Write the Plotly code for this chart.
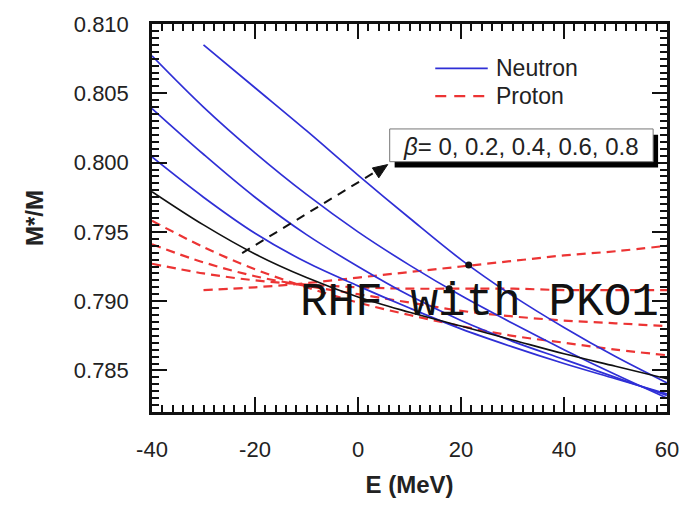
import plotly.graph_objects as go

# Energy grids (MeV)
energy = [-40, -30, -20, -10, 0, 10, 20, 30, 40, 50, 60]
energy_b08 = [-30, -20, -10, 0, 10, 20, 30, 40, 50, 60]

# Effective mass M*/M, symmetric matter (beta = 0)
mass_b0 = [0.7979, 0.7955, 0.7934, 0.7917, 0.7903, 0.7892, 0.7882, 0.7872, 0.7862, 0.7853, 0.7844]

# Neutron effective masses
neutron_b02 = [0.8004, 0.7975, 0.7949, 0.7928, 0.7911, 0.7895, 0.7880, 0.7867, 0.7855, 0.7844, 0.7833]
neutron_b04 = [0.8039, 0.8006, 0.7975, 0.7948, 0.7925, 0.7904, 0.7886, 0.7871, 0.7858, 0.7845, 0.7832]
neutron_b06 = [0.8077, 0.8040, 0.8007, 0.7977, 0.7950, 0.7926, 0.7904, 0.7884, 0.7865, 0.7847, 0.7830]
neutron_b08 = [0.8085, 0.8054, 0.8023, 0.7991, 0.7960, 0.7930, 0.7904, 0.7881, 0.7860, 0.7841]

# Proton effective masses
proton_b02 = [0.7958, 0.7939, 0.7923, 0.7910, 0.7899, 0.7890, 0.7882, 0.7875, 0.7870, 0.7865, 0.7861]
proton_b04 = [0.7941, 0.7928, 0.7918, 0.7911, 0.7905, 0.7899, 0.7893, 0.7889, 0.7886, 0.7884, 0.7882]
proton_b06 = [0.7927, 0.7920, 0.7915, 0.7912, 0.7910, 0.7909, 0.7909, 0.7909, 0.7908, 0.7908, 0.7908]
proton_b08 = [0.7908, 0.7910, 0.7913, 0.7917, 0.7921, 0.7925, 0.7929, 0.7933, 0.7936, 0.7940]

# Points where neutron and proton masses coincide
cross_energy = [21.5, 17.7]
cross_mass = [0.7926, 0.7909]

x_ticks = [-40, -20, 0, 20, 40, 60]

BLUE = "#2f2fd6"
RED = "#ec3434"
FONT = "Liberation Sans, Arial, Helvetica, sans-serif"

W, H = 691, 507
L, R, T, B = 152, 672, 14, 417


def px(x):
    return (x - L) / (R - L)


def py(y):
    return (B - y) / (B - T)


fig = go.Figure()

neutrons = [(energy, neutron_b02), (energy, neutron_b04), (energy, neutron_b06), (energy_b08, neutron_b08)]
protons = [(energy, proton_b02), (energy, proton_b04), (energy, proton_b06), (energy_b08, proton_b08)]

for ex, ys in protons:
    fig.add_trace(go.Scatter(x=ex, y=ys, mode="lines", showlegend=False,
                             line=dict(color=RED, width=2.2, dash="9px,6px", shape="spline", smoothing=1.0)))
for ex, ys in neutrons:
    fig.add_trace(go.Scatter(x=ex, y=ys, mode="lines", showlegend=False,
                             line=dict(color=BLUE, width=1.7, shape="spline", smoothing=1.0)))
fig.add_trace(go.Scatter(x=energy, y=mass_b0, mode="lines", showlegend=False,
                         line=dict(color="#111111", width=1.6, shape="spline", smoothing=1.0)))
fig.add_trace(go.Scatter(x=cross_energy, y=cross_mass, mode="markers", showlegend=False,
                         marker=dict(color="#111111", size=7)))

shapes = []
# legend samples
shapes.append(dict(type="line", xref="paper", yref="paper", x0=px(438), x1=px(491), y0=py(60), y1=py(60),
                   line=dict(color=BLUE, width=1.8)))
shapes.append(dict(type="line", xref="paper", yref="paper", x0=px(438), x1=px(491), y0=py(89), y1=py(89),
                   line=dict(color=RED, width=2.2, dash="11px,8px")))
# beta label box with drop shadow
shapes.append(dict(type="rect", xref="paper", yref="paper", x0=px(397), x1=px(663), y0=py(129), y1=py(163),
                   fillcolor="#000000", line=dict(width=0)))
shapes.append(dict(type="rect", xref="paper", yref="paper", x0=px(392), x1=px(658), y0=py(123), y1=py(157),
                   fillcolor="#ffffff", line=dict(color="#777777", width=1)))
# dashed arrow shaft
shapes.append(dict(type="line", xref="paper", yref="paper", x0=px(243), y0=py(252), x1=px(380), y1=py(166),
                   line=dict(color="#111111", width=2, dash="9px,7px")))
# arrow head
tip = (390, 160)
b1 = (374.5, 163.5)
b2 = (381.0, 173.8)
shapes.append(dict(type="path", xref="paper", yref="paper",
                   path="M {} {} L {} {} L {} {} Z".format(px(tip[0]), py(tip[1]), px(b1[0]), py(b1[1]),
                                                          px(b2[0]), py(b2[1])),
                   fillcolor="#111111", line=dict(color="#111111", width=1)))

annotations = [
    dict(xref="paper", yref="paper", x=px(497), y=py(60), text="Neutron", showarrow=False,
         xanchor="left", yanchor="middle", font=dict(family=FONT, size=23, color="#222222")),
    dict(xref="paper", yref="paper", x=px(497), y=py(89), text="Proton", showarrow=False,
         xanchor="left", yanchor="middle", font=dict(family=FONT, size=23, color="#222222")),
    dict(xref="paper", yref="paper", x=px(525), y=py(141), text="<i>β</i>= 0, 0.2, 0.4, 0.6, 0.8",
         showarrow=False, xanchor="center", yanchor="middle",
         font=dict(family=FONT, size=24, color="#222222")),
    dict(xref="paper", yref="paper", x=px(299), y=py(304), text="RHF with PKO1", showarrow=False,
         xanchor="left", yanchor="middle",
         font=dict(family="Courier New, Liberation Mono, monospace", size=46, color="#111111")),
]

axis_common = dict(
    showline=True, linecolor="#111111", linewidth=2.5, mirror="ticks",
    ticks="inside", ticklen=15, tickwidth=2, tickcolor="#111111",
    showgrid=False, zeroline=False,
    tickfont=dict(family=FONT, size=22, color="#222222"),
)

fig.update_xaxes(range=[-40, 60], tickmode="array", tickvals=x_ticks, ticktext=[str(v) for v in x_ticks],
                 minor=dict(tickmode="linear", dtick=2, tick0=-40, ticks="inside", ticklen=7, tickwidth=1.5,
                            tickcolor="#111111"),
                 ticklabelstandoff=16,
                 title=dict(text="<b>E (MeV)</b>", font=dict(family=FONT, size=24, color="#222222"), standoff=16),
                 **axis_common)
fig.update_yaxes(range=[0.782, 0.810], tickmode="linear", tick0=0.78, dtick=0.005, tickformat=".3f",
                 minor=dict(tickmode="linear", dtick=0.0005, tick0=0.78, ticks="inside", ticklen=7, tickwidth=1.5,
                            tickcolor="#111111"),
                 ticklabelstandoff=16,
                 title=dict(text="<b>M*/M</b>", font=dict(family=FONT, size=24, color="#222222"), standoff=24),
                 **axis_common)

fig.update_layout(
    width=W, height=H,
    margin=dict(l=L, r=W - R, t=T, b=H - B, pad=0),
    paper_bgcolor="white", plot_bgcolor="white",
    shapes=shapes, annotations=annotations,
    showlegend=False,
)

fig.write_html("out.html")
